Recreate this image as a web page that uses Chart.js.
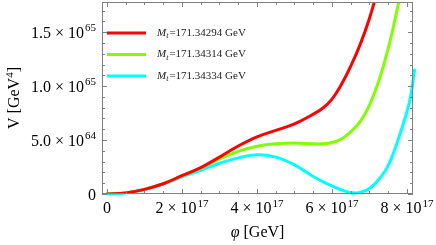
<!DOCTYPE html>
<html>
<head>
<meta charset="utf-8">
<script src="https://cdn.jsdelivr.net/npm/chart.js@4.4.1/dist/chart.umd.min.js"></script>
<style>
  body { margin: 0; background: #fff; }
</style>
</head>
<body>
<canvas id="myChart" width="436" height="245"></canvas>
<script>
// phi in units of 10^17 GeV, V in units of 10^64 GeV^4
var masses = ["171.34294", "171.34314", "171.34334"];
var colores = ["#ff0000", "#80ff00", "#00ffff"];

var phiRed = [0, 0.5, 1, 1.5, 2, 2.5, 3, 3.5, 4, 4.5, 5, 5.5, 5.75, 6, 6.25, 6.5, 6.75, 7, 7.25];
var vRed = [0, 0.1, 0.43, 0.95, 1.7, 2.45, 3.42, 4.45, 5.3, 5.9, 6.5, 7.4, 7.95, 8.8, 10.15, 11.85, 13.85, 16.3, 19.3];

var phiGreen = [0, 0.5, 1, 1.5, 2, 2.5, 3, 3.5, 4, 4.5, 5, 5.5, 5.75, 6, 6.25, 6.5, 6.75, 7, 7.25, 7.5, 7.75, 7.9];
var vGreen = [0, 0.1, 0.43, 0.95, 1.7, 2.4, 3.25, 3.95, 4.42, 4.66, 4.72, 4.65, 4.66, 4.78, 5.1, 5.75, 6.7, 8.25, 10.5, 13.5, 17.3, 19.8];

var phiCyan = [0, 0.5, 1, 1.5, 2, 2.5, 3, 3.5, 4, 4.5, 5, 5.5, 5.75, 6, 6.25, 6.5, 6.75, 7, 7.25, 7.5, 7.75, 8, 8.1, 8.2, 8.25];
var vCyan = [0, 0.1, 0.42, 0.92, 1.6, 2.2, 2.85, 3.35, 3.64, 3.42, 2.7, 1.62, 1.15, 0.75, 0.38, 0.12, 0.15, 0.52, 1.35, 2.65, 4.9, 7.65, 9.1, 11.5, 13.4];

// "^" marks the exponent
var xTickVals = [0, 2, 4, 6, 8];
var xTickLabels = ["0", "2 × 10^17", "4 × 10^17", "6 × 10^17", "8 × 10^17"];
var yTickVals = [0, 5, 10, 15];
var yTickLabels = ["0", "5.0 × 10^64", "1.0 × 10^65", "1.5 × 10^65"];

function puntos(xs, ys) {
  return xs.map(function (v, i) { return { x: v, y: ys[i] }; });
}

var serif = "'Liberation Serif', 'DejaVu Serif', serif";

// label with a raised exponent; align "center" or "right"
function etiqueta(ctx, label, x, y, align) {
  var parts = label.split("^");
  ctx.font = "16px " + serif;
  var w1 = ctx.measureText(parts[0]).width;
  var w2 = 0;
  if (parts[1]) {
    ctx.font = "11px " + serif;
    w2 = ctx.measureText(parts[1]).width + 1;
  }
  var x0 = align === "center" ? x - (w1 + w2) / 2 : x - (w1 + w2);
  ctx.font = "16px " + serif;
  ctx.fillText(parts[0], x0, y);
  if (parts[1]) {
    ctx.font = "11px " + serif;
    ctx.fillText(parts[1], x0 + w1 + 1, y - 6.5);
  }
}

// frame with inward ticks on all four sides (Mathematica style), labels, titles, legend
var marco = {
  id: "marco",
  afterDatasetsDraw: function (chart) {
    var ctx = chart.ctx, a = chart.chartArea, x = chart.scales.x, y = chart.scales.y;
    ctx.save();
    ctx.strokeStyle = "#808080";
    ctx.lineWidth = 1;
    ctx.strokeRect(a.left + 0.5, a.top + 0.5, a.right - a.left - 1, a.bottom - a.top - 1);
    ctx.beginPath();
    for (var v = 0; v <= 8.01; v += 0.5) {
      var px = Math.round(x.getPixelForValue(v)) + 0.5;
      var len = v % 2 === 0 ? 5 : 3;
      ctx.moveTo(px, a.bottom); ctx.lineTo(px, a.bottom - len);
      ctx.moveTo(px, a.top); ctx.lineTo(px, a.top + len);
    }
    for (var w = 0; w <= 17; w++) {
      var py = Math.round(y.getPixelForValue(w)) + 0.5;
      var l2 = w % 5 === 0 ? 5 : 3;
      ctx.moveTo(a.left, py); ctx.lineTo(a.left + l2, py);
      ctx.moveTo(a.right, py); ctx.lineTo(a.right - l2, py);
    }
    ctx.stroke();
    ctx.restore();
  },
  afterDraw: function (chart) {
    var ctx = chart.ctx, a = chart.chartArea, x = chart.scales.x, y = chart.scales.y;
    ctx.save();
    ctx.fillStyle = "#000";
    ctx.textAlign = "left";
    ctx.textBaseline = "alphabetic";
    xTickVals.forEach(function (v, i) {
      etiqueta(ctx, xTickLabels[i], x.getPixelForValue(v), a.bottom + 19, "center");
    });
    yTickVals.forEach(function (v, i) {
      etiqueta(ctx, yTickLabels[i], a.left - 6, y.getPixelForValue(v) + 5.5, "right");
    });

    // x title
    ctx.font = "italic 16px " + serif;
    var wPhi = ctx.measureText("φ").width;
    ctx.font = "16px " + serif;
    var wRest = ctx.measureText(" [GeV]").width;
    var cx = (a.left + a.right) / 2 - (wPhi + wRest) / 2;
    ctx.font = "italic 16px " + serif;
    ctx.fillText("φ", cx, 237);
    ctx.font = "16px " + serif;
    ctx.fillText(" [GeV]", cx + wPhi, 237);

    // y title
    ctx.save();
    ctx.translate(19, (a.top + a.bottom) / 2);
    ctx.rotate(-Math.PI / 2);
    ctx.font = "16px " + serif;
    var t1 = "V [GeV", t3 = "]";
    var w1 = ctx.measureText(t1).width, w3 = ctx.measureText(t3).width;
    ctx.font = "11px " + serif;
    var w2 = ctx.measureText("4").width;
    var sx = -(w1 + w2 + w3) / 2;
    ctx.font = "16px " + serif;
    ctx.fillText(t1, sx, 0);
    ctx.font = "11px " + serif;
    ctx.fillText("4", sx + w1, -6.5);
    ctx.font = "16px " + serif;
    ctx.fillText(t3, sx + w1 + w2, 0);
    ctx.restore();

    // legend
    ctx.textBaseline = "middle";
    for (var i = 0; i < masses.length; i++) {
      var ly = a.top + 31 + i * 21.5;
      ctx.strokeStyle = colores[i];
      ctx.lineWidth = 3;
      ctx.beginPath();
      ctx.moveTo(a.left + 5, ly);
      ctx.lineTo(a.left + 44, ly);
      ctx.stroke();
      var tx = a.left + 55;
      ctx.fillStyle = "#222";
      ctx.font = "italic 11px " + serif;
      ctx.fillText("M", tx, ly);
      tx += ctx.measureText("M").width;
      ctx.font = "italic 8px " + serif;
      ctx.fillText("t", tx, ly + 3);
      tx += ctx.measureText("t").width + 1;
      ctx.font = "11px " + serif;
      ctx.fillText("=" + masses[i] + " GeV", tx, ly);
    }
    ctx.restore();
  }
};

var ctx = document.getElementById("myChart").getContext("2d");
new Chart(ctx, {
  type: "scatter",
  data: {
    datasets: [
      { label: masses[0], data: puntos(phiRed, vRed), borderColor: colores[0] },
      { label: masses[1], data: puntos(phiGreen, vGreen), borderColor: colores[1] },
      { label: masses[2], data: puntos(phiCyan, vCyan), borderColor: colores[2], clip: false },
    ],
  },
  options: {
    responsive: false,
    animation: false,
    showLine: true,
    elements: {
      point: { radius: 0 },
      line: { borderWidth: 3, tension: 0.4, fill: false, borderCapStyle: "round", borderJoinStyle: "round" },
    },
    layout: { padding: { top: 2, right: 23, left: 0, bottom: 0 } },
    plugins: { legend: { display: false }, tooltip: { enabled: false } },
    scales: {
      x: {
        type: "linear",
        min: -0.133,
        max: 8.16,
        grid: { display: false, drawTicks: false },
        border: { display: false },
        ticks: { display: false },
        afterFit: function (scale) {
          scale.height = 51;
          scale.paddingLeft = 0; scale.paddingRight = 0;
        },
      },
      y: {
        type: "linear",
        min: 0,
        max: 17.8,
        grid: { display: false, drawTicks: false },
        border: { display: false },
        ticks: { display: false },
        afterFit: function (scale) {
          scale.width = 102;
          scale.paddingTop = 0; scale.paddingBottom = 0;
        },
      },
    },
  },
  plugins: [marco],
});
</script>
</body>
</html>
